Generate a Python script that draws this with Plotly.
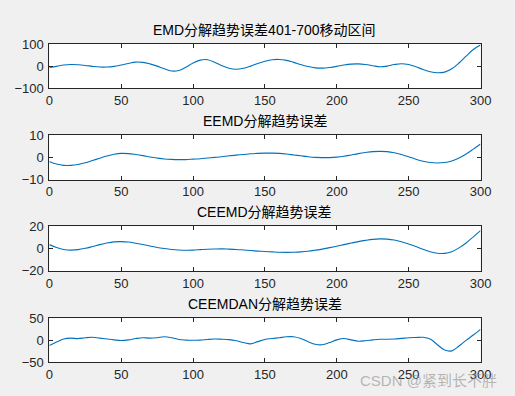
import plotly.graph_objects as go

x_vals = list(range(0, 301, 5))

emd_err = [-6, -1, 5, 7, 6, 3, -1, -4, -4, -1, 5, 12, 18, 17, 10, 0, -12, -22, -20, -5,
           14, 27, 29, 18, 2, -10, -14, -10, 0, 12, 22, 29, 30, 26, 17, 7, -2, -8, -9, -6,
           -1, 5, 9, 10, 7, 2, -3, 0, 7, 11, 7, -3, -15, -25, -30, -27, -12, 14, 45, 75, 95]

eemd_err = [-1.8, -3.0, -3.6, -3.6, -3.2, -2.4, -1.4, -0.4, 0.6, 1.4, 1.8, 1.7, 1.3, 0.8, 0.2,
            -0.3, -0.7, -0.9, -1.0, -1.0, -0.8, -0.6, -0.3, 0.0, 0.3, 0.7, 1.0, 1.3, 1.6, 1.8,
            1.9, 1.9, 1.8, 1.5, 1.1, 0.7, 0.3, 0.0, -0.1, -0.1, 0.1, 0.5, 1.1, 1.7, 2.2, 2.6,
            2.7, 2.6, 2.1, 1.3, 0.3, -0.8, -1.7, -2.3, -2.5, -2.3, -1.6, -0.3, 1.5, 3.7, 6.0]

ceemd_err = [3.5, 1.0, -0.8, -1.4, -1.0, 0.2, 1.8, 3.5, 5.0, 6.0, 6.2, 5.8, 4.8, 3.6, 2.3,
             1.0, 0.0, -0.8, -1.3, -1.5, -1.4, -1.0, -0.6, -0.4, -0.3, -0.5, -0.8, -1.3, -1.8,
             -2.3, -2.7, -3.0, -3.3, -3.4, -3.3, -3.0, -2.4, -1.5, -0.5, 0.8, 2.1, 3.5, 4.9, 6.2,
             7.3, 8.2, 8.6, 8.4, 7.6, 6.1, 4.1, 1.8, -0.7, -2.8, -4.2, -4.3, -2.8, 0.6, 5.0, 10.5, 16.0]

ceemdan_err = [-12, -4, 3, 5, 4, 6, 7, 5, 3, 1, -0.5, 1, 4, 6, 5, 6, 8, 6, 2, 0.5, 0, 0.5, 2, 3,
               2.5, 1.5, -1, -5, -8, -3, 2, 4, 6, 8, 8, 4, -3, -9, -10, -5, 1, 4, 1, -2, -1, 1,
               2.5, 2.5, 3, 4.5, 6, 6.5, 7, 3, -10, -22, -24, -13, 0, 12, 25]

titles = ["EMD分解趋势误差401-700移动区间", "EEMD分解趋势误差", "CEEMD分解趋势误差", "CEEMDAN分解趋势误差"]
y_ticks = [[-100, 0, 100], [-10, 0, 10], [-20, 0, 20], [-50, 0, 50]]
x_ticks = [0, 50, 100, 150, 200, 250, 300]
series = [emd_err, eemd_err, ceemd_err, ceemdan_err]

W, H = 515, 396
# layout positions in page pixels
x_left, x_right = 46.7, 490.8
tops = [38.4, 133.1, 227.8, 323.6]
bottoms = [84.5, 179.5, 274.3, 369.3]

FONT = "Liberation Sans, Arial, Noto Sans CJK SC, sans-serif"
AX = "#262626"

fig = go.Figure()
layout = dict(
    width=W, height=H, autosize=False,
    paper_bgcolor="#f0f0f0", plot_bgcolor="#ffffff",
    margin=dict(l=0, r=0, t=0, b=0),
    showlegend=False,
    font=dict(family=FONT, size=13, color=AX),
    annotations=[],
)

for i, (ys, title) in enumerate(zip(series, titles)):
    n = "" if i == 0 else str(i + 1)
    fig.add_trace(go.Scatter(x=x_vals, y=ys, mode="lines",
                             line=dict(color="#0072BD", width=1.1, shape="spline", smoothing=1.0),
                             xaxis="x" + n, yaxis="y" + n, hoverinfo="skip"))
    ydom = [1 - bottoms[i] / H, 1 - tops[i] / H]
    common = dict(showline=True, linecolor=AX, linewidth=1, mirror="ticks", ticks="inside",
                  ticklen=4, tickcolor=AX, tickwidth=1, showgrid=False, zeroline=False,
                  tickfont=dict(family=FONT, size=13, color=AX))
    layout["xaxis" + n] = dict(domain=[x_left / W, x_right / W], range=[0, 300],
                               tickvals=x_ticks, anchor="y" + n, **common)
    yr = y_ticks[i]
    layout["yaxis" + n] = dict(domain=ydom, range=[yr[0], yr[-1]], tickvals=yr,
                               anchor="x" + n, ticklabelstandoff=2, **common)
    layout["annotations"].append(dict(
        text=title, x=(x_left + x_right) / 2 / W, y=1 - (tops[i] - 4.5) / H,
        xref="paper", yref="paper", xanchor="center", yanchor="bottom", showarrow=False,
        font=dict(family=FONT, size=14, color="#000000")))

layout["annotations"].append(dict(
    text="CSDN @紧到长不胖", x=510 / W, y=1 - 388 / H, xref="paper", yref="paper",
    xanchor="right", yanchor="middle", showarrow=False,
    font=dict(family=FONT, size=15, color="rgba(140,140,140,0.6)")))

fig.update_layout(**layout)

post = (
    "document.documentElement.style.background='#f0f0f0';"
    "document.body.style.margin='0';"
    "document.body.style.overflow='hidden';"
    "document.body.style.background='#f0f0f0';"
)
fig.write_html("out.html", config={"responsive": False, "displayModeBar": False},
               post_script=post)
